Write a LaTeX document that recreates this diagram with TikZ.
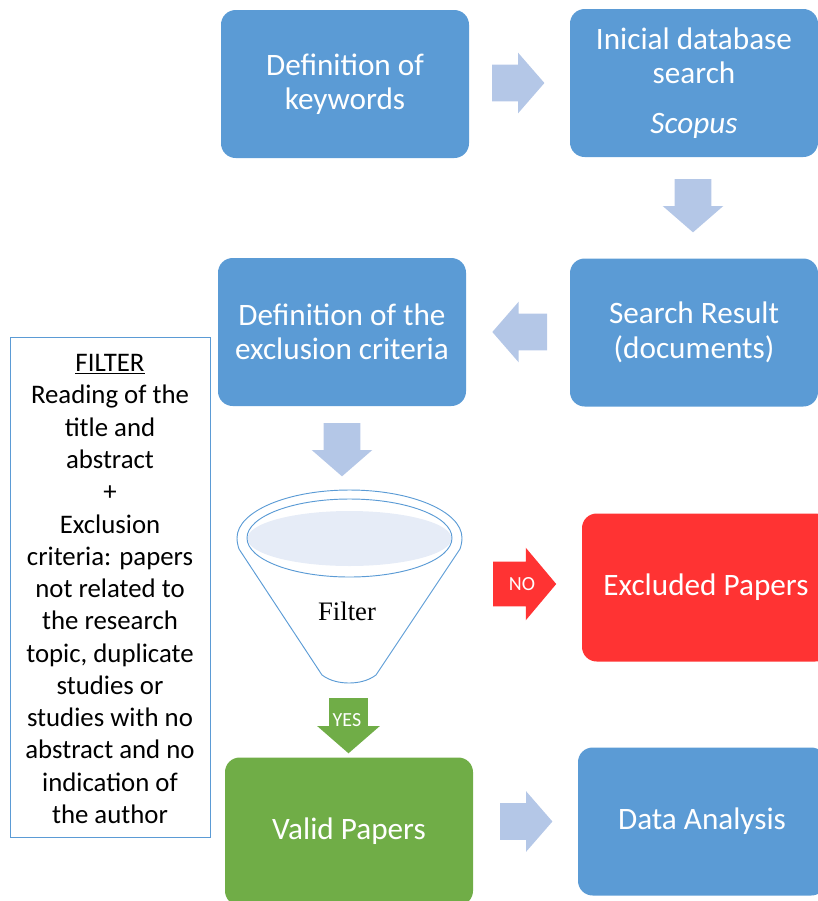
\documentclass[tikz,border=0pt]{standalone}
\usepackage{fontspec}
\setmainfont{Carlito}
\newfontfamily\serifface{Liberation Serif}
\usepackage{xcolor}
\definecolor{boxblue}{HTML}{5B9BD5}
\definecolor{arrowblue}{HTML}{B4C7E7}
\definecolor{boxgreen}{HTML}{70AD47}
\definecolor{boxred}{HTML}{FF3333}
\definecolor{bowlblue}{HTML}{E6ECF7}
\usetikzlibrary{shapes.arrows}
\tikzset{
  stage/.style={rounded corners=11pt,minimum width=186pt,minimum height=111pt,inner sep=0pt,fill=boxblue,text=white,align=center,font=\fontsize{23.4}{25.9}\selectfont},
  flow/.style={single arrow,anchor=tail,single arrow head extend=9pt,single arrow tip angle=98,single arrow head indent=0pt,inner sep=13.5pt,outer sep=0pt,minimum height=39pt,fill=arrowblue},
  tag/.style={inner sep=0pt,text=white,font=\fontsize{15}{18}\selectfont}
}

\begin{document}
\begin{tikzpicture}[x=0.75pt,y=-0.75pt]

\useasboundingbox (0,0) rectangle (818,901);

\node[stage] (keywords) at (345,84) {Definition of\\keywords};
\node[stage] (search) at (694,83) {Inicial database\\search\\[11pt]\textit{Scopus}};
\node[stage] (result) at (694,332.5) {Search Result\\(documents)};
\node[stage] (criteria) at (342,332) {Definition of the\\exclusion criteria};
\node[stage,fill=boxred] (excluded) at (706,587.5) {Excluded Papers};
\node[stage,fill=boxgreen] (valid) at (349,831.5) {Valid Papers};
\node[stage] (analysis) at (702,821.5) {Data Analysis};

\node[flow] (a1) at (492,83) {};
\node[flow,shape border rotate=270,minimum height=40pt] (a2) at (693,179) {};
\node[flow,shape border rotate=180,minimum height=41pt] (a3) at (547,332) {};
\node[flow,shape border rotate=270,minimum height=40pt] (a4) at (342,423) {};
\node[flow] (a5) at (500,821.5) {};

\node[flow,single arrow head extend=10.5pt,single arrow tip angle=100,inner sep=16.5pt,minimum height=44pt,fill=boxred] (no) at (493,584) {};
\node[tag] (notag) at (522,584) {NO};
\node[flow,shape border rotate=270,inner sep=14.25pt,fill=boxgreen] (yes) at (348.5,698) {};
\node[tag] (yestag) at (347,720) {YES};

\draw[boxblue,line width=0.7pt] (237,538) arc[x radius=112.5,y radius=48,start angle=180,end angle=360] .. controls (462,542) and (461,546) .. (460,549) -- (376,675) .. controls (368,681) and (358,683) .. (349,683) .. controls (340,683) and (330,681) .. (322,675) -- (239,549) .. controls (238,546) and (237,542) .. (237,538) -- cycle;
\fill[bowlblue] (349.5,538.5) ellipse[x radius=102,y radius=27.5];
\draw[boxblue,line width=0.7pt] (349.5,538) ellipse[x radius=102.5,y radius=39];
\node[inner sep=0pt,font=\serifface\fontsize{20}{24}\selectfont] (filter) at (347,611) {Filter};

\node[draw=boxblue,line width=0.6pt,minimum width=150pt,minimum height=375pt,inner sep=0pt,align=center,font=\fontsize{20.1}{24.2}\selectfont] (notes) at (110,587) {\rule{0pt}{16pt}\underline{FILTER}\\Reading of the\\title and\\abstract\\+\\Exclusion\\criteria: papers\\not related to\\the research\\topic, duplicate\\studies or\\studies with no\\abstract and no\\indication of\\the author};

\end{tikzpicture}
\end{document}
